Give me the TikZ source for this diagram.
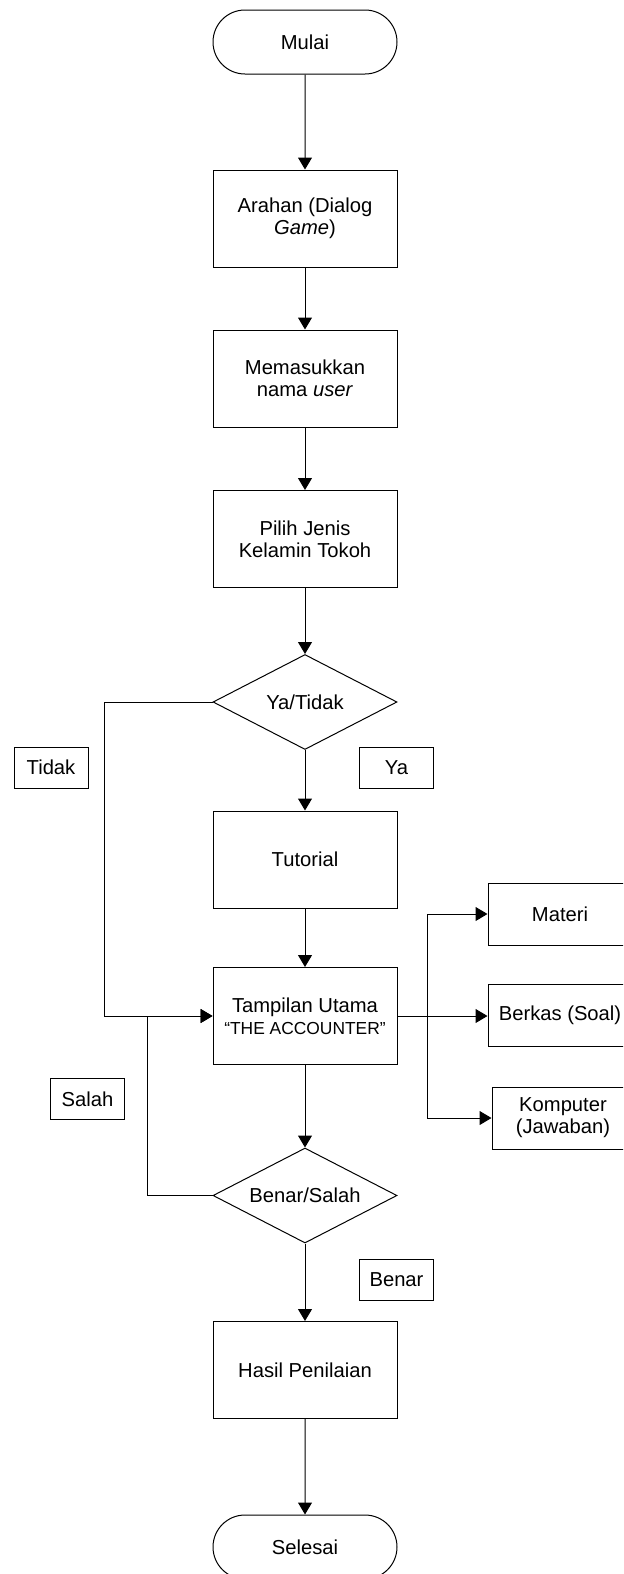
\documentclass[tikz,border=0pt]{standalone}
\usepackage{fontspec}
\setmainfont{Liberation Sans}
\usetikzlibrary{shapes.geometric,shapes.misc,arrows.meta}
\begin{document}
\begin{tikzpicture}[x=0.5pt,y=-0.5pt,
  every node/.style={font=\fontsize{10.1}{11}\selectfont, align=center, inner sep=0pt, line width=0.5pt},
  flow/.style={draw=black, line width=0.5pt, -{Triangle[width=7pt,length=6pt]}},
  link/.style={draw=black, line width=0.5pt},
  proc/.style={draw, rectangle, minimum width=92pt, minimum height=48.5pt},
  term/.style={draw, rounded rectangle, minimum width=92pt, minimum height=32pt},
  decision/.style={draw, diamond, aspect=2, minimum width=92pt, minimum height=47.5pt},
  tag/.style={draw, rectangle, minimum width=37pt, minimum height=20.5pt},
  side/.style={draw, rectangle, minimum width=72pt, minimum height=31pt},
]
\useasboundingbox (0,0) rectangle (623,1574);
\clip (0,0) rectangle (623,1574);

% main column
\node[term] (start) at (305,42) {Mulai};
\node[proc] (arahan) at (305,218.5) {Arahan (Dialog\\\textit{Game})};
\node[proc] (nama) at (305,378.5) {Memasukkan\\nama \textit{user}};
\node[proc] (pilih) at (305,539) {Pilih Jenis\\Kelamin Tokoh};
\node[decision] (yt) at (305,702) {Ya/Tidak};
\node[proc] (tutorial) at (305,859.5) {Tutorial};
\node[proc] (utama) at (305,1016) {Tampilan Utama\\{\fontsize{8.7}{11}\selectfont ``THE ACCOUNTER''}};
\node[decision] (bs) at (305,1195.5) {Benar/Salah};
\node[proc] (hasil) at (305,1370) {Hasil Penilaian};
\node[term] (end) at (305,1547) {Selesai};

% branch labels
\node[tag] (tidak) at (51,767.5) {Tidak};
\node[tag] (ya) at (396.5,767.5) {Ya};
\node[tag] (salah) at (87.5,1099) {Salah};
\node[tag] (benar) at (396.5,1280) {Benar};

% menu items
\node[side] (materi) at (560,914) {Materi};
\node[side] (berkas) at (560,1015.5) {Berkas (Soal)};
\node[side, minimum width=71pt] (komputer) at (563,1118) {Komputer\\(Jawaban)};

% connectors
\draw[flow] (start) -- (arahan);
\draw[flow] (arahan) -- (nama);
\draw[flow] (nama) -- (pilih);
\draw[flow] (pilih) -- (yt);
\draw[flow] (yt.south) -- (tutorial);
\draw[flow] (yt.west) -- ++(-108,0) |- (utama.west);
\draw[flow] (tutorial) -- (utama);
\draw[flow] (utama) -- (bs);
\draw[flow] (bs.west) -- ++(-65,0) |- (utama.west);
\draw[flow] (bs.south) -- (hasil);
\draw[flow] (hasil) -- (end);

\coordinate (fork) at (427,1016);
\draw[link] (utama.east) -- (fork);
\draw[flow] (fork) |- (materi.west);
\draw[flow] (fork) -- (fork -| berkas.west);
\draw[flow] (fork) |- (komputer.west);
\end{tikzpicture}
\end{document}
